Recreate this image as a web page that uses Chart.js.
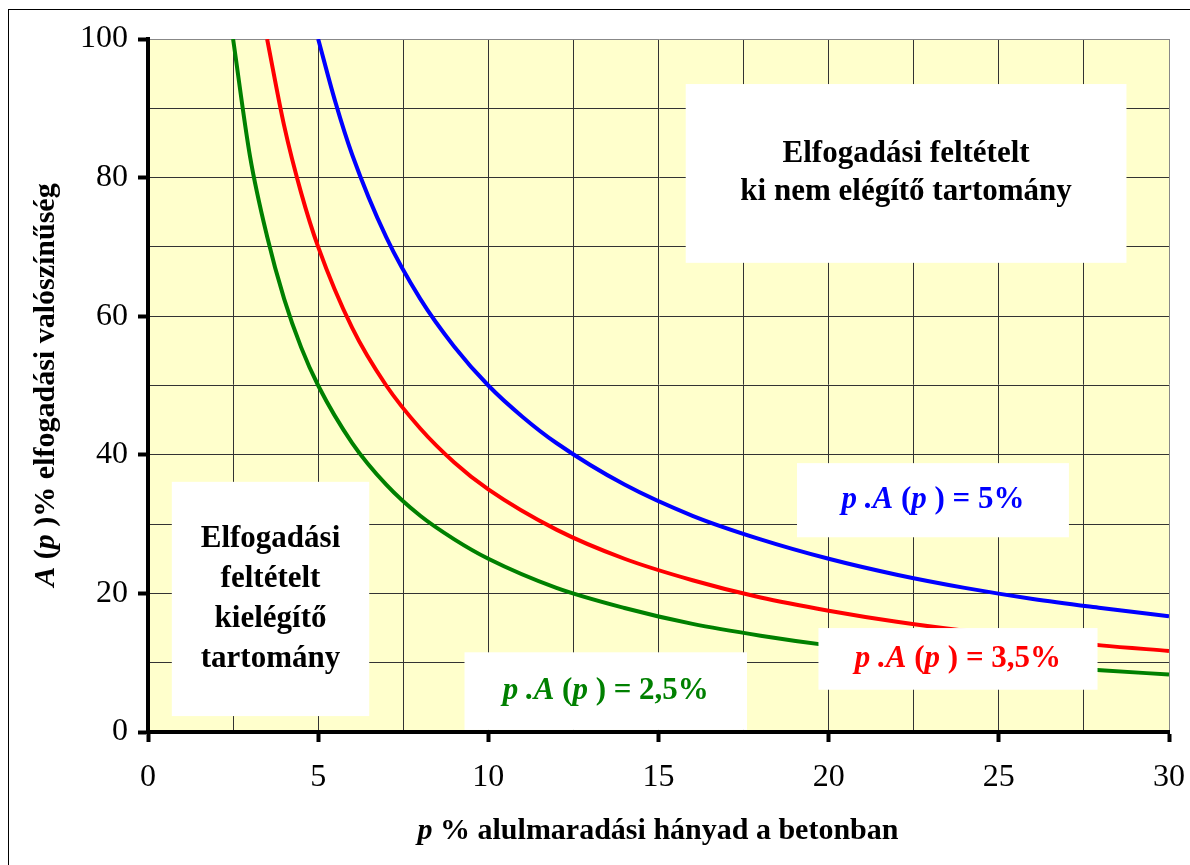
<!DOCTYPE html>
<html>
<head>
<meta charset="utf-8">
<script src="https://cdn.jsdelivr.net/npm/chart.js@4"></script>
<style>
  body { margin: 0; background: #fff; }
  #wrap { width: 1190px; height: 865px; }
</style>
</head>
<body>
<div id="wrap"><canvas id="myChart" width="1190" height="865"></canvas></div>
<script>
// p % values and A(p) % values
const pGreen = [2.5, 3, 3.5, 4, 4.5, 5, 6, 7, 8, 9, 10, 12, 14, 16, 18, 20, 22, 24, 26, 28, 30];
const aGreen = [100, 83, 71.5, 62.5, 55.5, 50, 41.7, 35.7, 31.2, 27.8, 25, 20.8, 17.9, 15.6, 13.9, 12.5, 11.4, 10.4, 9.6, 8.9, 8.3];

const pRed = [3.5, 4, 4.5, 5, 6, 7, 8, 9, 10, 12, 14, 16, 18, 20, 22, 24, 26, 28, 30];
const aRed = [100, 87.5, 77.8, 70, 58.3, 50, 43.8, 38.9, 35, 29.2, 25, 21.9, 19.4, 17.5, 15.9, 14.6, 13.5, 12.5, 11.7];

const pBlue = [5, 5.5, 6, 7, 8, 9, 10, 11, 12, 14, 16, 18, 20, 22, 24, 26, 28, 30];
const aBlue = [100, 91, 83.3, 71.4, 62.5, 55.6, 50, 45.5, 41.7, 35.7, 31.2, 27.8, 25, 22.7, 20.8, 19.2, 17.9, 16.7];

const seriesNames = ["p.A(p) = 2,5%", "p.A(p) = 3,5%", "p.A(p) = 5%"];

function pts(xs, ys) {
  return xs.map((x, i) => ({ x: x, y: ys[i] }));
}

// text boxes, corners in data units (p, A)
const notes = [
  { x0: 15.8, x1: 28.75, y0: 93.5, y1: 67.7, color: "#000",
    lines: [[["Elfogadási feltételt", false]], [["ki nem elégítő tartomány", false]]], gap: 38 },
  { x0: 0.7, x1: 6.5, y0: 36.1, y1: 2.3, color: "#000",
    lines: [[["Elfogadási", false]], [["feltételt", false]], [["kielégítő", false]], [["tartomány", false]]], gap: 40 },
  { x0: 19.07, x1: 27.06, y0: 38.8, y1: 28.1, color: "#0000FF",
    lines: [[["p .A", true], [" (", false], ["p", true], [" ) = 5%", false]]], gap: 0 },
  { x0: 9.3, x1: 17.6, y0: 11.5, y1: 0.3, color: "#008000",
    lines: [[["p .A", true], [" (", false], ["p", true], [" ) = 2,5%", false]]], gap: 0 },
  { x0: 19.7, x1: 27.9, y0: 15, y1: 6.1, color: "#FF0000",
    lines: [[["p .A", true], [" (", false], ["p", true], [" ) = 3,5%", false]]], gap: 0 },
];

function fontOf(italic, size) {
  return (italic ? "italic " : "") + "bold " + size + 'px "Liberation Serif"';
}

function drawRuns(ctx, runs, cx, cy, size) {
  let total = 0;
  const widths = runs.map(r => {
    ctx.font = fontOf(r[1], size);
    const w = ctx.measureText(r[0]).width;
    total += w;
    return w;
  });
  let x = cx - total / 2;
  ctx.textBaseline = "middle";
  ctx.textAlign = "left";
  runs.forEach((r, i) => {
    ctx.font = fontOf(r[1], size);
    ctx.fillText(r[0], x, cy);
    x += widths[i];
  });
}

const extras = {
  id: "extras",
  beforeDraw(chart) {
    const { ctx, chartArea: a } = chart;
    ctx.save();
    ctx.fillStyle = "#fff";
    ctx.fillRect(0, 0, chart.width, chart.height);
    ctx.fillStyle = "#FFFFCC";
    ctx.fillRect(a.left, a.top, a.right - a.left, a.bottom - a.top);
    ctx.strokeStyle = "#000";
    ctx.lineWidth = 1;
    ctx.strokeRect(8.5, 9.5, 1400, 1000);
    ctx.restore();
  },
  afterDatasetsDraw(chart) {
    const { ctx, scales } = chart;
    const sx = scales.x, sy = scales.y;
    ctx.save();
    notes.forEach(n => {
      const l = sx.getPixelForValue(n.x0), r = sx.getPixelForValue(n.x1);
      const t = sy.getPixelForValue(n.y0), b = sy.getPixelForValue(n.y1);
      ctx.fillStyle = "#fff";
      ctx.fillRect(l, t, r - l, b - t);
      ctx.fillStyle = n.color;
      const cx = (l + r) / 2, cy = (t + b) / 2;
      const start = cy - (n.lines.length - 1) * n.gap / 2;
      n.lines.forEach((line, i) => drawRuns(ctx, line, cx, start + i * n.gap, 31));
    });
    // axis titles
    ctx.fillStyle = "#000";
    drawRuns(ctx, [["p", true], [" % alulmaradási hányad a betonban", false]], 658, 831, 30);
    ctx.translate(46, 385);
    ctx.rotate(-Math.PI / 2);
    drawRuns(ctx, [["A", true], [" (", false], ["p", true], [" )% elfogadási valószínűség", false]], 0, 0, 30);
    ctx.restore();
  },
};

new Chart("myChart", {
  type: "line",
  data: {
    datasets: [
      { label: seriesNames[0], data: pts(pGreen, aGreen), borderColor: "#008000" },
      { label: seriesNames[1], data: pts(pRed, aRed), borderColor: "#FF0000" },
      { label: seriesNames[2], data: pts(pBlue, aBlue), borderColor: "#0000FF" },
    ],
  },
  options: {
    responsive: false,
    animation: false,
    layout: { padding: { top: 39, right: 21, left: 0, bottom: 0 } },
    elements: {
      line: { borderWidth: 4, fill: false, cubicInterpolationMode: "monotone" },
      point: { radius: 0 },
    },
    plugins: {
      legend: { display: false },
      tooltip: { enabled: false },
    },
    scales: {
      x: {
        type: "linear",
        min: 0,
        max: 30,
        afterFit(scale) {
          scale.height = 133;
          scale.paddingLeft = 0;
          scale.paddingRight = 0;
        },
        border: { color: "#000", width: 4 },
        grid: {
          color: ctx => (ctx.tick && ctx.tick.value === 30 ? "#888" : "#333"),
          lineWidth: 1,
          tickLength: 10,
          tickWidth: 4,
          tickColor: ctx => (ctx.tick && ctx.tick.value % 5 === 0 ? "#000" : "rgba(0,0,0,0)"),
        },
        ticks: {
          stepSize: 2.5,
          autoSkip: false,
          maxRotation: 0,
          padding: 16,
          color: "#000",
          font: { family: '"Liberation Serif"', size: 32 },
          callback: v => (v % 5 === 0 ? v : ""),
        },
      },
      y: {
        min: 0,
        max: 100,
        afterFit(scale) {
          scale.width = 148;
          scale.paddingTop = 0;
          scale.paddingBottom = 0;
        },
        border: { color: "#000", width: 4 },
        grid: {
          color: ctx => (ctx.tick && ctx.tick.value === 100 ? "#888" : "#333"),
          lineWidth: 1,
          tickLength: 10,
          tickWidth: 4,
          tickColor: ctx => (ctx.tick && ctx.tick.value % 20 === 0 ? "#000" : "rgba(0,0,0,0)"),
        },
        ticks: {
          stepSize: 10,
          autoSkip: false,
          padding: 10,
          color: "#000",
          font: { family: '"Liberation Serif"', size: 32 },
          callback: v => (v % 20 === 0 ? v : ""),
        },
      },
    },
  },
  plugins: [extras],
});
</script>
</body>
</html>
